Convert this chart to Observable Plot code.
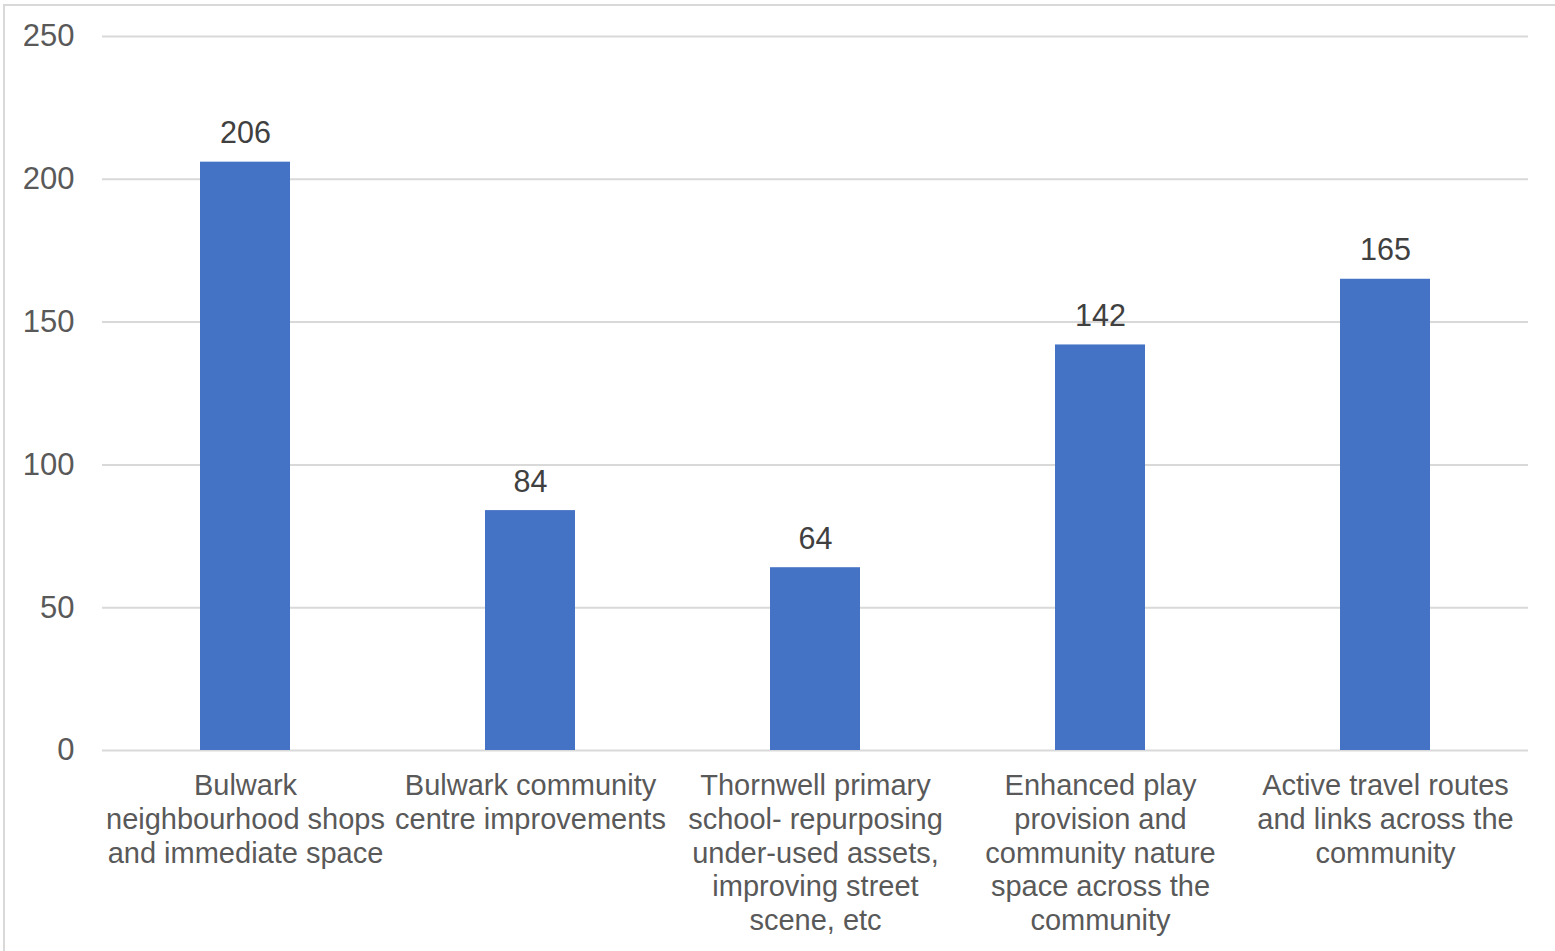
<!DOCTYPE html>
<html>
<head>
<meta charset="utf-8">
<script src="https://cdn.jsdelivr.net/npm/d3@7"></script>
<script src="https://cdn.jsdelivr.net/npm/@observablehq/plot@0.6"></script>
<style>
  html, body { margin: 0; padding: 0; background: #fff; overflow: hidden; }
  #wrap { position: relative; width: 1555px; height: 951px; }
  #frame { position: absolute; left: 3px; top: 4px; width: 1560px; height: 960px; border: 2px solid #d9d9d9; box-sizing: border-box; pointer-events: none; }
  #chart { position: absolute; left: 0; top: 0; }
</style>
</head>
<body>
<div id="wrap"><div id="frame"></div><div id="chart"></div></div>
<script>
const categories = [
  "Bulwark neighbourhood shops and immediate space",
  "Bulwark community centre improvements",
  "Thornwell primary school- repurposing under-used assets, improving street scene, etc",
  "Enhanced play provision and community nature space across the community",
  "Active travel routes and links across the community"
];
const tickLabels = [
  "Bulwark\nneighbourhood shops\nand immediate space",
  "Bulwark community\ncentre improvements",
  "Thornwell primary\nschool- repurposing\nunder-used assets,\nimproving street\nscene, etc",
  "Enhanced play\nprovision and\ncommunity nature\nspace across the\ncommunity",
  "Active travel routes\nand links across the\ncommunity"
];
const values = [206, 84, 64, 142, 165];
const yTicks = [0, 50, 100, 150, 200, 250];

const data = categories.map((c, i) => ({category: c, value: values[i]}));
const labelOf = new Map(categories.map((c, i) => [c, tickLabels[i]]));

const chart = Plot.plot({
  width: 1555,
  height: 951,
  marginLeft: 102,
  marginRight: 27,
  marginTop: 36,
  marginBottom: 201,
  style: {fontFamily: "Liberation Sans, Arial, sans-serif", background: "transparent"},
  x: {domain: categories, paddingInner: 0.685, paddingOuter: 0.3425, label: null},
  y: {domain: [0, 250], label: null},
  marks: [
    Plot.gridY(yTicks, {stroke: "#d9d9d9", strokeOpacity: 1, strokeWidth: 2}),
    Plot.barY(data, {x: "category", y: "value", fill: "#4472c4"}),
    Plot.text(data, {x: "category", y: "value", text: d => String(d.value), lineAnchor: "bottom", dy: -19, fontSize: 30.5, fill: "#404040"}),
    Plot.axisY(yTicks, {tickSize: 0, tickPadding: 28, fontSize: 31, fill: "#595959", label: null}),
    Plot.axisX({tickSize: 0, tickPadding: 21, fontSize: 29, fill: "#595959", lineHeight: 1.16, tickFormat: d => labelOf.get(d), label: null})
  ]
});
document.getElementById("chart").appendChild(chart);
</script>
</body>
</html>
